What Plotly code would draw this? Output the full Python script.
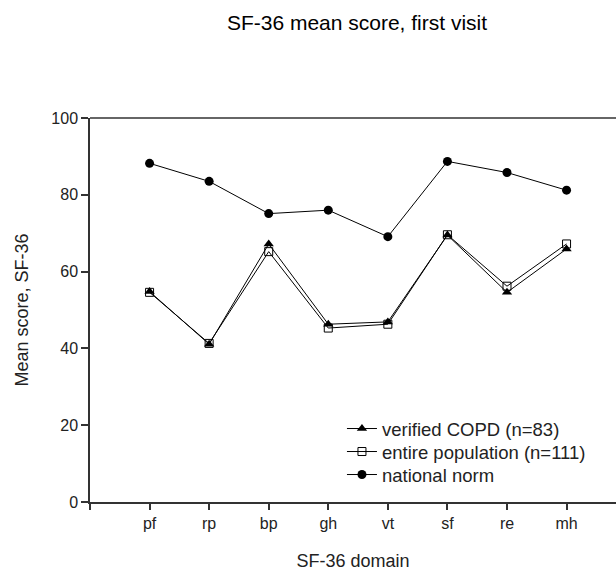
import plotly.graph_objects as go

domains = ["pf", "rp", "bp", "gh", "vt", "sf", "re", "mh"]
copd = [54.8, 41.1, 67.2, 46.3, 46.9, 69.5, 54.6, 65.9]
entire = [54.6, 41.3, 65.2, 45.3, 46.3, 69.6, 56.2, 67.2]
norm = [88.2, 83.5, 75.1, 76.0, 69.1, 88.7, 85.8, 81.2]
yticks = [0, 20, 40, 60, 80, 100]

xpos = list(range(1, len(domains) + 1))
FONT = "Liberation Sans, Arial, sans-serif"
line = dict(color="black", width=1)
AX = "#333"

fig = go.Figure()
fig.add_trace(go.Scatter(x=xpos, y=copd, mode="lines+markers", name="verified COPD (n=83)",
                         line=line, legend="legend",
                         marker=dict(symbol="triangle-up", size=9, color="black")))
fig.add_trace(go.Scatter(x=xpos, y=entire, mode="lines+markers", name="entire population (n=111)",
                         line=line, legend="legend2",
                         marker=dict(symbol="square-open", size=8, color="black", line=dict(width=1))))
fig.add_trace(go.Scatter(x=xpos, y=norm, mode="lines+markers", name="national norm",
                         line=line, legend="legend3",
                         marker=dict(symbol="circle", size=9, color="black")))

leg = dict(x=0.479, xanchor="left", yanchor="top", font=dict(size=18.5, color="#222"),
           bgcolor="rgba(0,0,0,0)")

fig.update_layout(
    width=616, height=571,
    margin=dict(l=90, r=0, t=118, b=69, autoexpand=False),
    paper_bgcolor="white", plot_bgcolor="white",
    font=dict(family=FONT, color="black"),
    title=dict(text="SF-36 mean score, first visit", x=357 / 616, xanchor="center",
               y=1 - 23 / 571, yanchor="middle", font=dict(size=21, color="black")),
    showlegend=True,
    legend=dict(leg, y=0.2396),
    legend2=dict(leg, y=0.1797),
    legend3=dict(leg, y=0.1198),
    xaxis=dict(range=[0, 8.83], tickvals=[0] + xpos, ticktext=[""] + domains,
               showgrid=False, zeroline=False, showline=True, linecolor=AX, linewidth=1.5,
               ticks="outside", ticklen=6, tickcolor=AX, tickwidth=1.5,
               tickfont=dict(size=16, color="#222"), automargin=False,
               title=dict(text="SF-36 domain", font=dict(size=18, color="#222"), standoff=33)),
    yaxis=dict(range=[0, 100], tickvals=yticks, showgrid=False, zeroline=False,
               showline=True, linecolor=AX, linewidth=1.5, ticks="outside", ticklen=7,
               tickcolor=AX, tickwidth=1.5, tickfont=dict(size=16, color="#222"),
               automargin=False,
               title=dict(text="Mean score, SF-36", font=dict(size=18, color="#222"), standoff=18)),
    shapes=[dict(type="line", xref="paper", yref="paper", x0=0, x1=1, y0=1, y1=1,
                 line=dict(color=AX, width=1.5))],
)

fig.write_html("out.html", config={"displayModeBar": False},
               post_script="document.body.style.margin='0';document.body.style.overflow='hidden';")
